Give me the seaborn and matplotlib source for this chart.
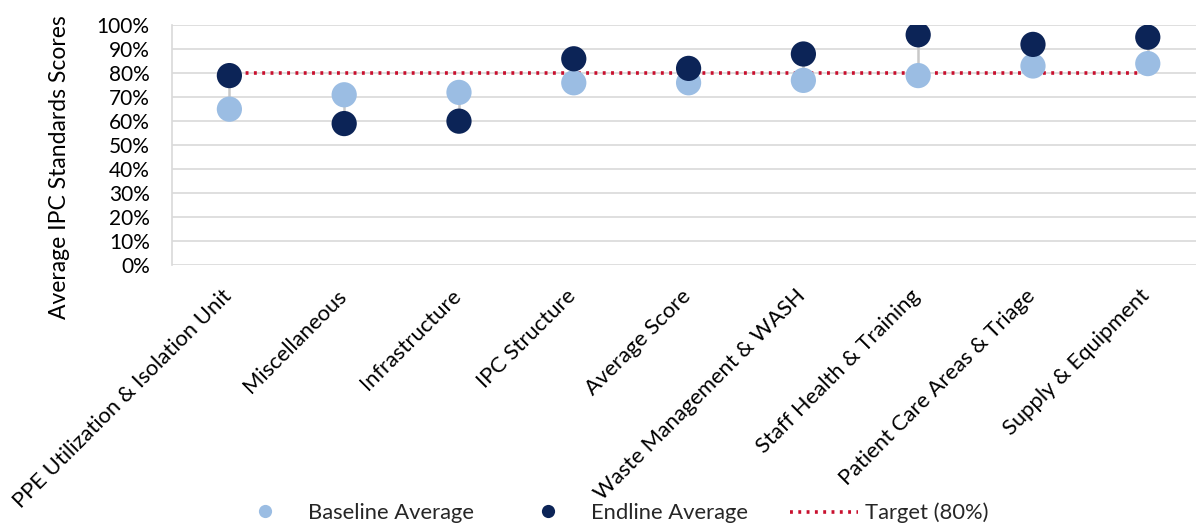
import matplotlib
matplotlib.use("Agg")
import matplotlib.pyplot as plt
import matplotlib.transforms as mtransforms
from matplotlib.lines import Line2D
import seaborn as sns
import pandas as pd

categories = [
    "PPE Utilization & Isolation Unit",
    "Miscellaneous",
    "Infrastructure",
    "IPC Structure",
    "Average Score",
    "Waste Management & WASH",
    "Staff Health & Training",
    "Patient Care Areas & Triage",
    "Supply & Equipment",
]
baseline = [65, 71, 72, 76, 76, 77, 79, 83, 84]
endline = [79, 59, 60, 86, 82, 88, 96, 92, 95]
target = [80] * len(categories)
y_ticks = list(range(0, 101, 10))

BASE_COLOR = "#9BBDE3"
END_COLOR = "#0C2457"
TARGET_COLOR = "#C8102E"
GRID_COLOR = "#D9D9D9"
DOTTED = (0, (0.8, 1.5))

sns.set_theme(style="white")
plt.rcParams["font.family"] = ["Lato", "DejaVu Sans"]

df = pd.DataFrame({
    "Category": categories * 2,
    "Score": baseline + endline,
    "Series": ["Baseline Average"] * len(categories) + ["Endline Average"] * len(categories),
})

fig = plt.figure(figsize=(11.96, 5.25), dpi=100)
ax = fig.add_axes([0.1438, 0.495, 1 - 0.1438, 0.457])

# connector between baseline and endline for each category
xs = list(range(len(categories)))
ax.vlines(xs, [min(b, e) for b, e in zip(baseline, endline)],
          [max(b, e) for b, e in zip(baseline, endline)],
          color="#C8C8C8", linewidth=1.8, zorder=1)

sns.lineplot(x=xs, y=target, ax=ax, color=TARGET_COLOR, linestyle=DOTTED,
             linewidth=2.6, zorder=2, legend=False)

sns.scatterplot(data=df, x="Category", y="Score", hue="Series",
                palette={"Baseline Average": BASE_COLOR, "Endline Average": END_COLOR},
                s=330, linewidth=0, ax=ax, zorder=3, legend=False)

ax.set_ylim(0, 100)
ax.set_xlim(-0.5, len(categories) - 0.58)
ax.set_yticks(y_ticks)
ax.set_yticklabels([f"{t}%" for t in y_ticks], fontsize=15, color="black")
ax.yaxis.grid(True, color=GRID_COLOR, linewidth=1.2)
ax.set_axisbelow(True)
for side in ["top", "right", "bottom"]:
    ax.spines[side].set_visible(False)
ax.spines["left"].set_color(GRID_COLOR)
ax.spines["left"].set_linewidth(1.2)
ax.tick_params(axis="y", length=0, pad=16)
ax.tick_params(axis="x", length=0, pad=12)

ax.set_xticks(xs)
ax.set_xticklabels(categories, rotation=45, ha="right", rotation_mode="anchor",
                   fontsize=15.8, color="black")
shift = mtransforms.ScaledTranslation(-8 / 100, -4 / 100, fig.dpi_scale_trans)
for lbl in ax.get_xticklabels():
    lbl.set_transform(lbl.get_transform() + shift)
ax.set_xlabel("")
ax.set_ylabel("Average IPC Standards Scores", fontsize=16.5, color="black")
ax.yaxis.set_label_coords(-0.0996, 0.408)

W, H = 1196, 525
legend_y = 1 - 513 / H
entries = [
    (Line2D([], [], marker="o", linestyle="none", markersize=9.5, markerfacecolor=BASE_COLOR,
            markeredgewidth=0, label="Baseline Average"), 254, 1.0, 1.47),
    (Line2D([], [], marker="o", linestyle="none", markersize=9.5, markerfacecolor=END_COLOR,
            markeredgewidth=0, label="Endline Average"), 537, 1.0, 1.47),
    (Line2D([], [], color=TARGET_COLOR, linestyle=DOTTED, linewidth=2.6,
            label="Target (80%)"), 790, 3.1, 0.3),
]
for handle, left_px, hlen, tpad in entries:
    fig.legend(handles=[handle], loc="center left", bbox_to_anchor=(left_px / W, legend_y),
               frameon=False, fontsize=15.8, handlelength=hlen, handletextpad=tpad,
               borderpad=0, borderaxespad=0)

fig.savefig("out.png", dpi=100)
